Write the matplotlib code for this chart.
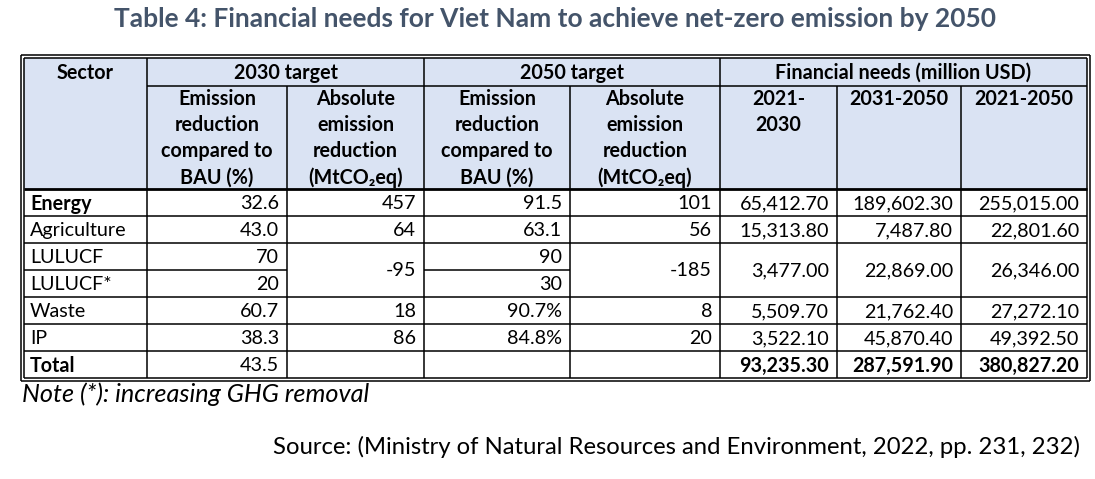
import matplotlib
matplotlib.use("Agg")
import matplotlib.pyplot as plt
from matplotlib.patches import Rectangle

FONT = ["Lato", "DejaVu Sans"]
plt.rcParams['font.family'] = FONT

# ---- data ----
title = "Table 4: Financial needs for Viet Nam to achieve net-zero emission by 2050"
group_headers = ["2030 target", "2050 target", "Financial needs (million USD)"]
sub_headers = ["Emission\nreduction\ncompared to\nBAU (%)",
               "Absolute\nemission\nreduction\n(MtCO\u2082eq)",
               "Emission\nreduction\ncompared to\nBAU (%)",
               "Absolute\nemission\nreduction\n(MtCO\u2082eq)",
               "2021-\n2030", "2031-2050", "2021-2050"]
sectors = ["Energy", "Agriculture", "LULUCF", "LULUCF*", "Waste", "IP", "Total"]
red_2030 = ["32.6", "43.0", "70", "20", "60.7", "38.3", "43.5"]
abs_2030 = ["457", "64", "-95", None, "18", "86", ""]
red_2050 = ["91.5", "63.1", "90", "30", "90.7%", "84.8%", ""]
abs_2050 = ["101", "56", "-185", None, "8", "20", ""]
fin_2021_2030 = ["65,412.70", "15,313.80", "3,477.00", None, "5,509.70", "3,522.10", "93,235.30"]
fin_2031_2050 = ["189,602.30", "7,487.80", "22,869.00", None, "21,762.40", "45,870.40", "287,591.90"]
fin_2021_2050 = ["255,015.00", "22,801.60", "26,346.00", None, "27,272.10", "49,392.50", "380,827.20"]
note = "Note (*): increasing GHG removal"
source = "Source: (Ministry of Natural Resources and Environment, 2022, pp. 231, 232)"

columns = [red_2030, abs_2030, red_2050, abs_2050, fin_2021_2030, fin_2031_2050, fin_2021_2050]
merged_cols = {1, 3, 4, 5, 6}       # columns merged across the two LULUCF rows
bold_rows_sector = {"Energy", "Total"}
bold_values_total_cols = {4, 5, 6}

# ---- layout (pixels) ----
W, H = 1095, 479
xs = [24, 147, 287, 424, 570, 720, 837, 961, 1087]
y_top, y_h1, y_h2 = 58, 86, 189
row_h = 27
header_bg = "#DAE3F3"
title_color = "#44546A"
fs = 14.2

fig = plt.figure(figsize=(W / 100, H / 100), dpi=100)
ax = fig.add_axes([0, 0, 1, 1])
ax.set_xlim(0, W)
ax.set_ylim(H, 0)
ax.axis("off")

# title
ax.text(555, 19, title, ha="center", va="center", fontsize=19,
        fontweight="bold", color=title_color)

# header background
ax.add_patch(Rectangle((xs[0], y_top), xs[-1] - xs[0], y_h2 - y_top,
                       facecolor=header_bg, edgecolor="none", zorder=0))

lw = 1.1
def hline(y, x0, x1, w=lw):
    ax.plot([x0, x1], [y, y], color="black", lw=w, solid_capstyle="butt", zorder=3)

def vline(x, y0, y1, w=lw):
    ax.plot([x, x], [y0, y1], color="black", lw=w, solid_capstyle="butt", zorder=3)

n = len(sectors)
row_edges = [y_h2 + i * row_h for i in range(n + 1)]
y_bot = row_edges[-1]

# header texts
ax.text((xs[0] + xs[1]) / 2, (y_top + y_h1) / 2 + 1, "Sector", ha="center", va="center",
        fontsize=fs, fontweight="bold")
group_spans = [(1, 3), (3, 5), (5, 8)]
for g, (a, b) in zip(group_headers, group_spans):
    ax.text((xs[a] + xs[b]) / 2, (y_top + y_h1) / 2 + 1, g, ha="center", va="center",
            fontsize=fs, fontweight="bold")
for j, s in enumerate(sub_headers):
    ax.text((xs[j + 1] + xs[j + 2]) / 2, y_h1 + 3, s, ha="center", va="top",
            fontsize=fs, fontweight="bold", linespacing=1.38)

# body texts
pad = 8
for i, sec in enumerate(sectors):
    yc = (row_edges[i] + row_edges[i + 1]) / 2 + 1
    ax.text(xs[0] + 6, yc, sec, ha="left", va="center", fontsize=fs,
            fontweight="bold" if sec in bold_rows_sector else "normal")
    for j, col in enumerate(columns):
        v = col[i]
        if v is None or v == "":
            continue
        y = yc
        if j in merged_cols and sec == "LULUCF":
            y = row_edges[i + 1] + 1
        bold = (sec == "Total" and j in bold_values_total_cols)
        ax.text(xs[j + 2] - pad, y, v, ha="right", va="center", fontsize=fs,
                fontweight="bold" if bold else "normal")

# grid lines
hline(y_h1, xs[1], xs[-1])
for i, y in enumerate(row_edges[1:-1], start=1):
    if sectors[i] == "LULUCF*":
        for j in range(len(xs) - 1):
            if j == 0 or (j - 1) not in merged_cols:
                hline(y, xs[j], xs[j + 1])
    else:
        hline(y, xs[0], xs[-1])
hline(y_h2, xs[0], xs[-1], w=2.0)
for k, x in enumerate(xs[1:-1], start=1):
    if k in (1, 3, 5):
        vline(x, y_top, y_bot)
    else:
        vline(x, y_h1, y_bot)

# double outer border
for off in (0, 3):
    hline(y_top - off, xs[0] - off, xs[-1] + off)
    hline(y_bot + off, xs[0] - off, xs[-1] + off)
    vline(xs[0] - off, y_top - off, y_bot + off)
    vline(xs[-1] + off, y_top - off, y_bot + off)

# note and source
ax.text(22, y_bot + 16, note, ha="left", va="center", fontsize=18.2, style="italic")
ax.text(1080, 447, source, ha="right", va="center", fontsize=17.2)

fig.savefig("out.png", dpi=100)
